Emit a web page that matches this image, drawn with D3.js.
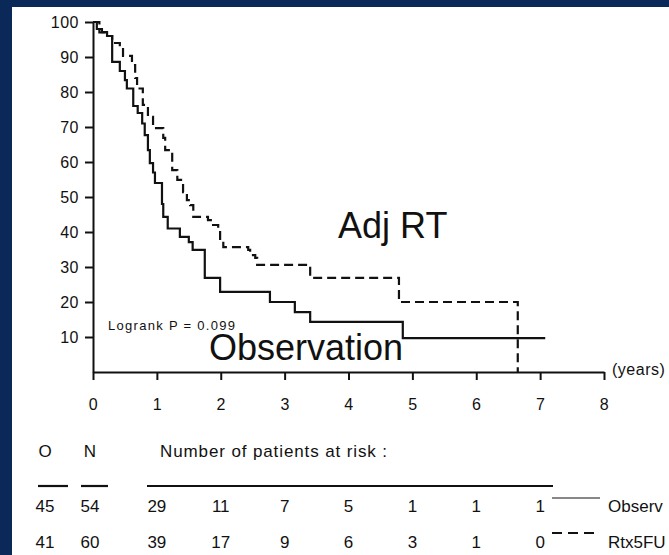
<!DOCTYPE html>
<html>
<head>
<meta charset="utf-8">
<script src="https://cdn.jsdelivr.net/npm/d3@7"></script>
<style>
  body{margin:0;background:#0a2858;}
  svg{display:block;}
  text{font-family:"Liberation Sans",Arial,sans-serif;fill:#111;}
</style>
</head>
<body>
<svg></svg>
<script>
// values
var yTicks=[10,20,30,40,50,60,70,80,90,100];
var xTicks=[0,1,2,3,4,5,6,7,8];

// Observation (solid)
var obsTime=[0,0.06,0.14,0.22,0.30,0.42,0.50,0.53,0.63,0.70,0.77,0.81,0.86,0.89,0.94,0.97,1.08,1.10,1.17,1.36,1.50,1.56,1.75,1.99,2.77,3.16,3.40,4.85,7.08];
var obsSurv=[100,98,97.1,96,88.6,86,83.4,81,76,74,71,67.7,63.4,59.7,57,54,48,44.3,41,38.6,37.1,34.9,26.9,22.9,20,17.1,14.3,9.7,9.7];

// Adj RT (dashed)
var rtTime=[0,0.10,0.20,0.30,0.42,0.47,0.61,0.66,0.69,0.78,0.86,0.94,1.10,1.13,1.24,1.32,1.41,1.47,1.52,1.57,1.80,1.88,1.96,1.99,2.04,2.43,2.46,2.54,2.57,3.40,4.79,6.65];
var rtSurv=[100,97,96,94,93.4,90.3,87.7,84,81,76.3,72.9,69.7,66.9,63.4,57.7,54.9,51.4,49.1,47.7,44.3,43.4,42,40.6,37.7,35.7,34.9,33.4,32.6,30.6,26.9,20,0];

// number at risk table
var riskYears=[1,2,3,4,5,6,7];
var riskObs=[29,11,7,5,1,1,1];
var riskRt=[39,17,9,6,3,1,0];
var colO=[45,41];
var colN=[54,60];

var svg=d3.select("svg").attr("width",669).attr("height",555);

svg.append("rect").attr("x",12).attr("y",7).attr("width",657).attr("height",548).attr("fill","#fff");

var xScale=d3.scaleLinear().domain([0,8]).range([93,604]);
var yScale=d3.scaleLinear().domain([0,100]).range([372,22]);

// axes
var yAxis=d3.axisLeft(yScale).tickValues(yTicks).tickSize(8).tickSizeOuter(0).tickPadding(6);
var gy=svg.append("g").attr("transform","translate(93,0)").call(yAxis);
var xAxis=d3.axisBottom(xScale).tickValues(xTicks).tickSize(8).tickSizeOuter(0).tickPadding(19);
var gx=svg.append("g").attr("transform","translate(0,372)").call(xAxis);

[gy,gx].forEach(function(g){
  g.select(".domain").attr("stroke","#111").attr("stroke-width",2);
  g.selectAll(".tick line").attr("stroke","#111").attr("stroke-width",2);
  g.selectAll(".tick text").style("font-size","16px").style("letter-spacing","0.5px")
   .style("font-family","'Liberation Sans',Arial,sans-serif").attr("fill","#111");
});

svg.append("text").attr("x",612).attr("y",375).style("font-size","16px").style("letter-spacing","0.5px").text("(years)");

// curves
var line=d3.line()
  .x(function(d){return xScale(d[0]);})
  .y(function(d){return yScale(d[1]);})
  .curve(d3.curveStepAfter);

svg.append("path")
   .datum(d3.zip(rtTime,rtSurv))
   .attr("d",line)
   .attr("fill","none")
   .attr("stroke","#111")
   .attr("stroke-width",2.2)
   .attr("stroke-dasharray","9,5");

svg.append("path")
   .datum(d3.zip(obsTime,obsSurv))
   .attr("d",line)
   .attr("fill","none")
   .attr("stroke","#111")
   .attr("stroke-width",2.2);

// annotations
svg.append("text").attr("x",338).attr("y",238).style("font-size","36px").text("Adj RT");
svg.append("text").attr("x",209).attr("y",360).style("font-size","36px").text("Observation");
svg.append("text").attr("x",108).attr("y",330).style("font-size","13px")
   .attr("textLength",127).attr("lengthAdjust","spacing").text("Logrank P = 0.099");

// table
var t=svg.append("g").style("font-size","17px");
t.append("text").attr("x",45).attr("y",457).attr("text-anchor","middle").text("O");
t.append("text").attr("x",90).attr("y",457).attr("text-anchor","middle").text("N");
t.append("text").attr("x",160).attr("y",457).attr("textLength",227).attr("lengthAdjust","spacing")
 .text("Number of patients at risk :");

[[38,68],[81,108],[147,553]].forEach(function(s){
  t.append("line").attr("x1",s[0]).attr("x2",s[1]).attr("y1",486).attr("y2",486)
   .attr("stroke","#111").attr("stroke-width",2.2);
});

var rowY=[512,548];
[riskObs,riskRt].forEach(function(row,r){
  t.append("text").attr("x",45).attr("y",rowY[r]).attr("text-anchor","middle").text(colO[r]);
  t.append("text").attr("x",90).attr("y",rowY[r]).attr("text-anchor","middle").text(colN[r]);
  t.selectAll(null).data(row).enter().append("text")
   .attr("x",function(d,i){return xScale(riskYears[i]);})
   .attr("y",rowY[r])
   .attr("text-anchor","middle")
   .text(function(d){return d;});
});

t.append("line").attr("x1",552).attr("x2",600).attr("y1",498).attr("y2",498)
 .attr("stroke","#111").attr("stroke-width",1);
t.append("line").attr("x1",552).attr("x2",597).attr("y1",533).attr("y2",533)
 .attr("stroke","#111").attr("stroke-width",2.2).attr("stroke-dasharray","10,6");
t.append("text").attr("x",608).attr("y",512).text("Observ");
t.append("text").attr("x",608).attr("y",548).text("Rtx5FU");
</script>
</body>
</html>
